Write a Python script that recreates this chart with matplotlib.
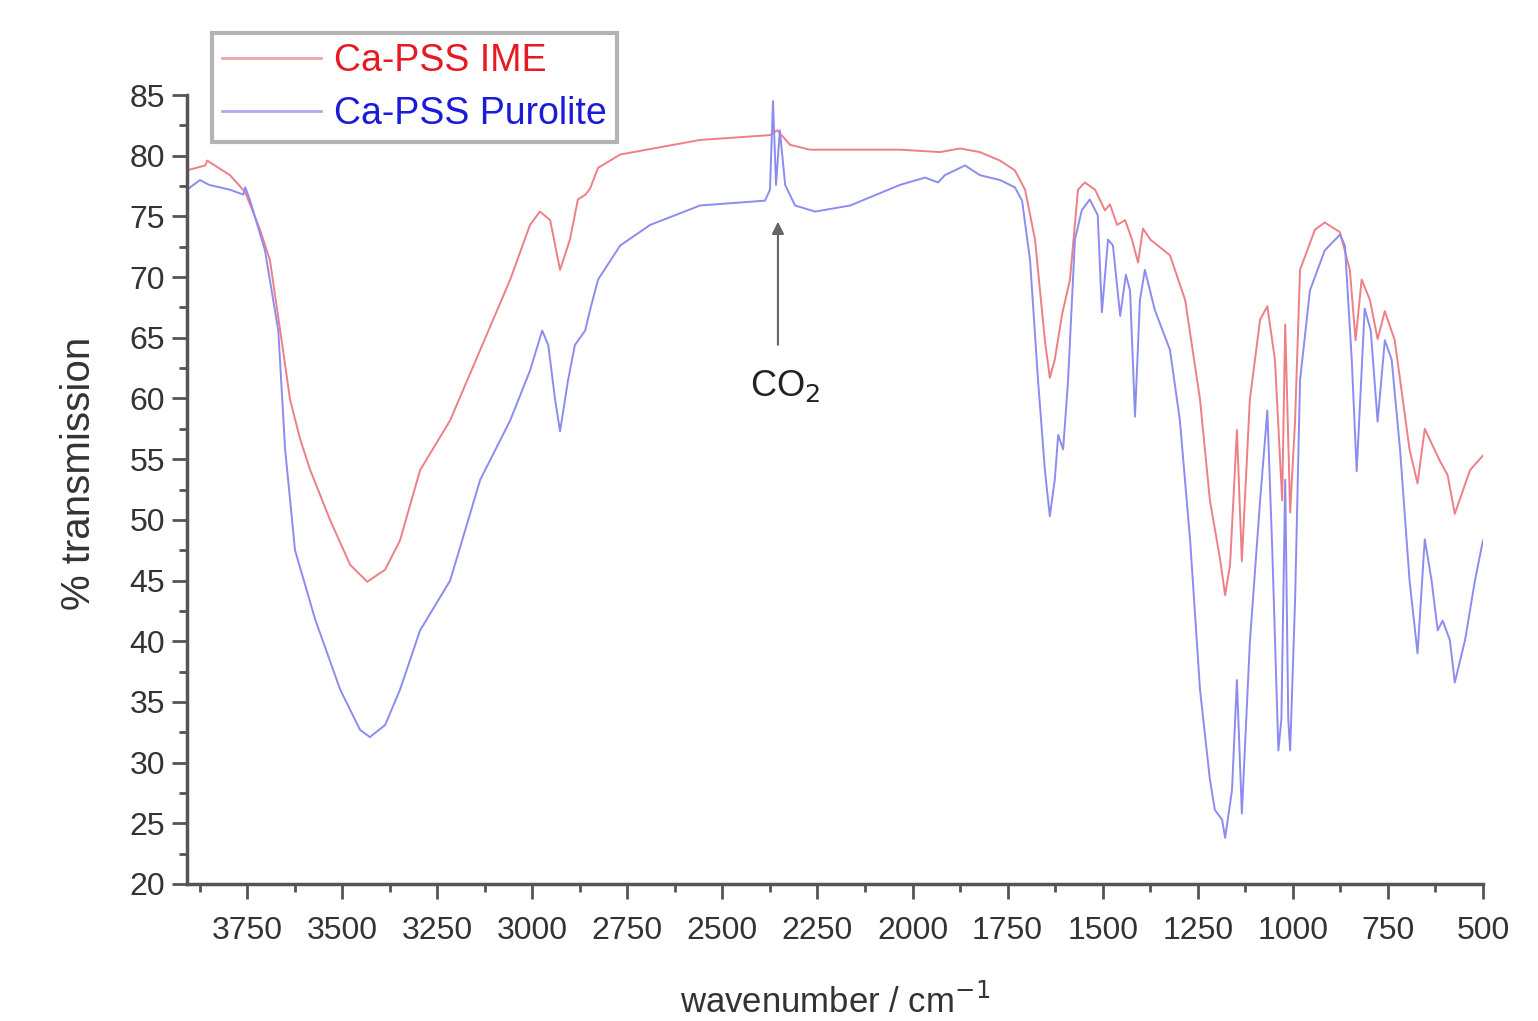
import numpy as np
import matplotlib
matplotlib.use("Agg")
import matplotlib.pyplot as plt
from matplotlib.ticker import MultipleLocator

# FTIR spectra (wavenumber / cm-1, % transmission)
wn_ime = [3908, 3860, 3855, 3795, 3755, 3716, 3690, 3663, 3637, 3610, 3584, 3532, 3479,
          3434, 3387, 3348, 3295, 3216, 3137, 3058, 3006, 2980, 2953, 2927, 2901,
          2880, 2860, 2848, 2827, 2769, 2559, 2375, 2356, 2322, 2270, 2033, 1928, 1875,
          1823, 1770, 1731, 1704, 1678, 1652, 1639, 1626, 1607, 1586, 1565, 1547,
          1520, 1494, 1481, 1462, 1441, 1423, 1407, 1394, 1375, 1323, 1283, 1244,
          1218, 1191, 1178, 1165, 1147, 1134, 1113, 1086, 1067, 1047, 1028, 1020,
          1007, 994, 981, 942, 916, 876, 850, 835, 819, 797, 777, 758, 732, 693,
          672, 653, 614, 593, 574, 534, 500]
tr_ime = [78.8, 79.2, 79.6, 78.4, 77.0, 73.9, 71.4, 65.6, 59.9, 56.6, 54.1, 50.0, 46.3,
          44.9, 45.9, 48.3, 54.1, 58.2, 64.0, 69.8, 74.3, 75.4, 74.7, 70.6, 73.1,
          76.4, 76.8, 77.3, 79.0, 80.1, 81.3, 81.7, 82.1, 80.9, 80.5, 80.5, 80.3, 80.6,
          80.3, 79.6, 78.8, 77.2, 73.1, 64.8, 61.7, 63.2, 66.9, 69.8, 77.2, 77.8,
          77.2, 75.5, 76.0, 74.3, 74.7, 73.1, 71.2, 74.0, 73.1, 71.8, 68.1, 59.9,
          51.6, 46.7, 43.8, 46.3, 57.4, 46.6, 59.9, 66.5, 67.6, 63.2, 51.6, 66.1,
          50.6, 58.2, 70.6, 73.9, 74.5, 73.7, 70.6, 64.8, 69.8, 68.1, 64.9, 67.2,
          64.8, 55.8, 53.0, 57.5, 54.9, 53.7, 50.5, 54.1, 55.3]

wn_pur = [3908, 3874, 3850, 3795, 3760, 3755, 3742, 3703, 3668, 3650, 3624, 3571,
          3505, 3453, 3427, 3387, 3348, 3295, 3216, 3137, 3058, 3006, 2974, 2958,
          2940, 2927, 2906, 2888, 2861, 2848, 2827, 2769, 2690, 2559, 2388, 2375,
          2367, 2359, 2349, 2335, 2309, 2256, 2164, 2033, 1967, 1933, 1915, 1862,
          1823, 1770, 1731, 1712, 1691, 1670, 1652, 1639, 1626, 1617, 1604, 1591,
          1573, 1555, 1534, 1513, 1502, 1486, 1473, 1454, 1439, 1428, 1415, 1402,
          1389, 1363, 1323, 1297, 1270, 1244, 1218, 1205, 1186, 1178, 1160, 1147,
          1134, 1113, 1086, 1067, 1054, 1038, 1030, 1020, 1012, 1007, 994, 981,
          955, 916, 876, 863, 845, 832, 811, 795, 777, 758, 740, 718, 693, 672,
          653, 635, 619, 606, 587, 574, 547, 521, 500]
tr_pur = [77.2, 78.0, 77.6, 77.2, 76.8, 77.4, 76.3, 72.2, 65.6, 55.8, 47.5, 41.8,
          36.0, 32.7, 32.1, 33.1, 36.0, 40.9, 45.0, 53.3, 58.2, 62.3, 65.6, 64.4,
          59.9, 57.3, 61.5, 64.4, 65.6, 67.3, 69.8, 72.6, 74.3, 75.9, 76.3, 77.2,
          84.5, 77.6, 82.1, 77.6, 75.9, 75.4, 75.9, 77.6, 78.2, 77.8, 78.4, 79.2,
          78.4, 78.0, 77.4, 76.3, 71.4, 61.5, 54.1, 50.3, 53.3, 57.0, 55.8, 61.5,
          73.1, 75.5, 76.4, 75.1, 67.1, 73.1, 72.6, 66.8, 70.2, 68.9, 58.5, 68.1,
          70.6, 67.3, 64.0, 58.2, 48.3, 36.0, 28.6, 26.1, 25.3, 23.8, 27.7, 36.8,
          25.8, 39.9, 51.6, 59.0, 47.5, 31.0, 33.6, 53.3, 33.6, 31.0, 43.4, 61.5,
          68.9, 72.2, 73.5, 72.6, 63.2, 54.0, 67.4, 65.6, 58.1, 64.8, 63.2, 55.8,
          45.0, 39.0, 48.4, 45.0, 40.9, 41.7, 40.1, 36.6, 40.1, 45.0, 48.3]

labels = ["Ca-PSS IME", "Ca-PSS Purolite"]
line_colors = ["#ee7f86", "#8c8cf0"]
handle_colors = ["#f2a4aa", "#aaaaf2"]
text_colors = ["#e51a22", "#1a1ad8"]

plt.rcParams['font.family'] = ['Liberation Sans', 'DejaVu Sans']

fig = plt.figure(figsize=(15.38, 10.21), dpi=100)
ax = fig.add_axes([0.1216, 0.1342, 0.8426, 0.7727])

ax.plot(wn_ime, tr_ime, color=line_colors[0], lw=1.4)
ax.plot(wn_pur, tr_pur, color=line_colors[1], lw=1.4)

ax.set_xlim(3908, 500)
ax.set_ylim(20, 85)
ax.xaxis.set_major_locator(MultipleLocator(250))
ax.xaxis.set_minor_locator(MultipleLocator(125))
ax.yaxis.set_major_locator(MultipleLocator(5))
ax.yaxis.set_minor_locator(MultipleLocator(2.5))

for s in ['top', 'right']:
    ax.spines[s].set_visible(False)
for s in ['left', 'bottom']:
    ax.spines[s].set_linewidth(2.5)
    ax.spines[s].set_color('#555555')

ax.tick_params(which='major', direction='out', length=11, width=2, color='#555555',
               labelsize=23, labelcolor='#333333')
ax.tick_params(which='minor', direction='out', length=6, width=2, color='#555555')
ax.tick_params(axis='x', which='major', pad=12)
ax.tick_params(axis='y', which='major', pad=5)

ax.set_xlabel("wavenumber / cm$^{-1}$", fontsize=25, color='#333333', labelpad=27)
ax.set_ylabel("% transmission", fontsize=29, color='#333333')
ax.yaxis.set_label_coords(-0.069, 0.52)

# CO2 marker
ax.annotate("", xy=(2354, 74.8), xytext=(2354, 64.2),
            arrowprops=dict(arrowstyle='-|>', color='#666666', lw=1.5, mutation_scale=18))
ax.text(2335, 61.0, "CO$_2$", fontsize=26, ha='center', va='center', color='#222222')

handles = [plt.Line2D([], [], color=c, lw=2) for c in handle_colors]
leg = fig.legend(handles, labels, loc='upper left',
                 bbox_to_anchor=(212 / 1538, 1 - 33 / 1021), borderaxespad=0,
                 fontsize=27, frameon=True, fancybox=False, handlelength=2.65,
                 borderpad=0.26, labelspacing=0.46, handletextpad=0.35)
leg.get_frame().set_edgecolor('#a0a0a0')
leg.get_frame().set_linewidth(3)
for t, c in zip(leg.get_texts(), text_colors):
    t.set_color(c)

fig.savefig("out.png", dpi=100)
